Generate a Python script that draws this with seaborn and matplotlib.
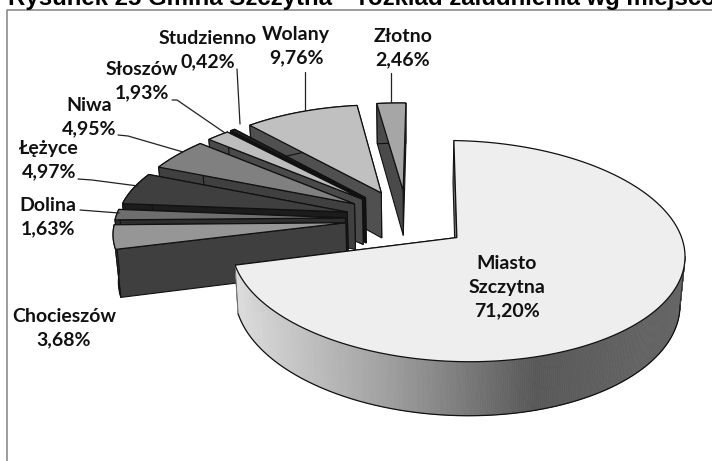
import numpy as np
import matplotlib
matplotlib.use("Agg")
import matplotlib.pyplot as plt
from matplotlib.patches import Polygon
import seaborn as sns

names = ["Miasto\nSzczytna", "Chocieszów", "Dolina", "Łężyce", "Niwa", "Słoszów", "Studzienno", "Wolany", "Złotno"]
values = [71.20, 3.68, 1.63, 4.97, 4.95, 1.93, 0.42, 9.76, 2.46]
labels = ["71,20%", "3,68%", "1,63%", "4,97%", "4,95%", "1,93%", "0,42%", "9,76%", "2,46%"]
title = "Rysunek 25 Gmina Szczytna – rozkład zaludnienia wg miejscowości"

top_colors = ["#eeeeee", "#969696", "#6e6e6e", "#3f3f3f", "#808080", "#bdbdbd", "#222222", "#c0c0c0", "#a6a6a6"]
side_colors = ["#777777", "#3f3f3f", "#2e2e2e", "#1c1c1c", "#404040", "#4a4a4a", "#111111", "#505050", "#4a4a4a"]
label_pos = [(507, 287), (64, 328), (48, 217), (49, 160), (89, 117), (142, 81), (208, 50), (296, 46), (403, 48)]
leaders = [None, None, [(80, 210), (119, 213)], [(78, 179), (92, 180), (138, 186)],
           [(118, 135), (128, 136), (183, 152)], [(172, 100), (177, 100), (225, 133)],
           [(237, 69), (240, 124)], [(305, 72), (305, 110)], [(391, 73), (391, 102)]]

sns.set_theme(style="white")
fig = plt.figure(figsize=(7.12, 4.61), dpi=100)
ax = fig.add_axes([0, 0, 1, 1])
ax.set_xlim(0, 712)
ax.set_ylim(461, 0)
ax.axis("off")

CX, CY, RX, RY, K, E, DEPTH, SHEAR, START = 407.0, 218.8, 220.0, 104.4, 0.12, 0.28, 46.4, 5.0, 2.0
BOTTOM = 0.982
LEFT_STRETCH = 55.0


def project(X, Y):
    X = np.asarray(X, dtype=float)
    Y = np.asarray(Y, dtype=float)
    w = 1 - K * Y
    extra = LEFT_STRETCH * np.clip(-X - 0.85, 0, None) ** 2
    return CX + (RX * X + SHEAR * Y - extra) / w, CY + RY * Y / w


def lower(px, py, Y):
    w = 1 - K * np.asarray(Y)
    return CX + (px - CX) * BOTTOM, py + DEPTH / w


def wedge(a0, a1):
    th = np.radians(np.linspace(a0, a1, max(3, int((a1 - a0) * 2))))
    mid = np.radians((a0 + a1) / 2)
    ox, oy = E * np.sin(mid), -E * np.cos(mid)
    return ox, oy, ox + np.sin(th), oy - np.cos(th)


def wall(Xs, Ys, color, zorder):
    px, py = project(Xs, Ys)
    qx, qy = lower(px, py, Ys)
    pts = np.r_[np.c_[px, py], np.c_[qx, qy][::-1]]
    ax.add_patch(Polygon(pts, closed=True, fc=color, ec="#111111", lw=0.8, zorder=zorder))


spans = np.array(values) / sum(values) * 360
edges = START + np.r_[0, np.cumsum(spans)]
order = [8, 7, 6, 5, 4, 3, 2, 1, 0]
ramp = sns.blend_palette(["#dcdcdc", "#a0a0a0", "#585858", "#666666"], 200)
z = 1
for i in order:
    ox, oy, xs, ys = wedge(edges[i], edges[i + 1])
    faces = [(np.array([ox, xs[0]]), np.array([oy, ys[0]])), (np.array([ox, xs[-1]]), np.array([oy, ys[-1]]))]
    faces.sort(key=lambda f: f[1].mean())
    for fx, fy in faces:
        wall(fx, fy, side_colors[i], z)
        z += 1
    if i == 0:
        # outer wall of the big slice: gradient strips in angle order, from the rightmost point round to the left tip
        sx, sy = project(xs, ys)
        k0 = int(np.argmax(sx))
        fx, fy = xs[k0:], ys[k0:]
        sx, sy = project(fx, fy)
        qx, qy = lower(sx, sy, fy)
        lo, hi = sx.min(), sx.max()
        for j in range(len(fx) - 1):
            t = (sx[j] - lo) / (hi - lo)
            c = ramp[min(199, int(t * 199))]
            pts = [(sx[j], sy[j]), (sx[j + 1], sy[j + 1]), (qx[j + 1], qy[j + 1]), (qx[j], qy[j])]
            ax.add_patch(Polygon(pts, closed=True, fc=c, ec=c, lw=0.5, zorder=z))
        ax.plot(qx, qy, color="#111111", lw=0.9, zorder=z + 1)
        ax.plot([sx[0], qx[0]], [sy[0], qy[0]], color="#333333", lw=0.8, zorder=z + 1)
        ax.plot([sx[-1], qx[-1]], [sy[-1], qy[-1]], color="#555555", lw=0.6, zorder=z + 1)
    else:
        wall(xs, ys, side_colors[i], z)
    z += 2
    px, py = project(np.r_[ox, xs], np.r_[oy, ys])
    ax.add_patch(Polygon(np.c_[px, py], closed=True, fc=top_colors[i], ec="#111111", lw=0.9, zorder=z))
    z += 1

font = dict(family="Lato", fontweight="bold", color="#111111", ha="center", va="center", linespacing=1.46, zorder=100)
for name, lab, pos in zip(names, labels, label_pos):
    ax.text(pos[0], pos[1], f"{name}\n{lab}", fontsize=14, **font)
for seg in leaders:
    if seg:
        ax.plot(*zip(*seg), color="#222222", lw=0.9, zorder=99)

ax.plot([7, 7, 712], [461, 10, 10], color="#8c8c8c", lw=1.2, zorder=0)
ax.text(8, 5, title, family="Liberation Sans", fontweight="bold", fontsize=17.3, color="black", ha="left", va="baseline", clip_on=True)
fig.savefig("out.png", dpi=100)
